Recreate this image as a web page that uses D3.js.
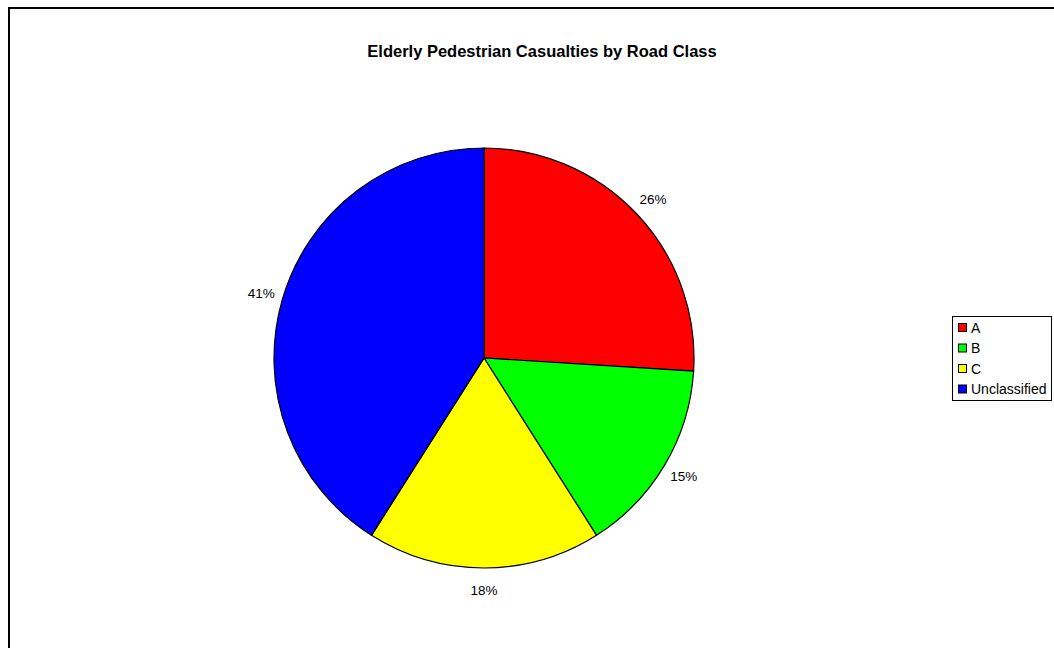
<!DOCTYPE html>
<html>
<head>
<meta charset="utf-8">
<script src="https://cdn.jsdelivr.net/npm/d3@7"></script>
<style>
  html, body { margin: 0; padding: 0; background: #fff; }
  svg { display: block; font-family: "Liberation Sans", Arial, sans-serif; }
</style>
</head>
<body>
<svg id="chart" width="1054" height="648"></svg>
<script>
// Share of elderly pedestrian casualties by road class (percent)
const categories = ["A", "B", "C", "Unclassified"];
const values = [26, 15, 18, 41];
const colors = ["#ff0000", "#00ff00", "#ffff00", "#0000ff"];
const title = "Elderly Pedestrian Casualties by Road Class";

const svg = d3.select("#chart");

// outer chart frame
svg.append("rect")
  .attr("x", 9).attr("y", 8)
  .attr("width", 1100).attr("height", 700)
  .attr("fill", "#fff")
  .attr("stroke", "#000")
  .attr("stroke-width", 2);

svg.append("text")
  .attr("x", 542).attr("y", 57)
  .attr("text-anchor", "middle")
  .attr("font-size", 16.5)
  .attr("font-weight", "bold")
  .text(title);

const cx = 484, cy = 358, radius = 210, labelRadius = 232;

const pie = d3.pie().sort(null).value(d => d.value);
const arcs = pie(categories.map((c, i) => ({ name: c, value: values[i] })));
const arc = d3.arc().innerRadius(0).outerRadius(radius);
const labelArc = d3.arc().innerRadius(labelRadius).outerRadius(labelRadius);

const g = svg.append("g").attr("transform", `translate(${cx},${cy})`);

g.selectAll("path.slice")
  .data(arcs)
  .join("path")
  .attr("class", "slice")
  .attr("d", arc)
  .attr("fill", (d, i) => colors[i])
  .attr("stroke", "#000")
  .attr("stroke-width", 1.2);

g.selectAll("text.pct")
  .data(arcs)
  .join("text")
  .attr("class", "pct")
  .attr("transform", d => `translate(${labelArc.centroid(d)})`)
  .attr("text-anchor", "middle")
  .attr("dominant-baseline", "central")
  .attr("font-size", 13.5)
  .attr("fill", "#000")
  .text(d => d.data.value + "%");

// legend
const legend = svg.append("g").attr("transform", "translate(952,316)");
legend.append("rect")
  .attr("x", 0.5).attr("y", 0.5)
  .attr("width", 99).attr("height", 84)
  .attr("fill", "#fff")
  .attr("stroke", "#000")
  .attr("stroke-width", 1);

const rows = legend.selectAll("g.item")
  .data(categories)
  .join("g")
  .attr("class", "item")
  .attr("transform", (d, i) => `translate(6,${7 + i * 20.5})`);

rows.append("rect")
  .attr("x", 0.5).attr("y", 0.5)
  .attr("width", 8).attr("height", 8)
  .attr("fill", (d, i) => colors[i])
  .attr("stroke", "#000")
  .attr("stroke-width", 1);

rows.append("text")
  .attr("x", 13).attr("y", 9.5)
  .attr("font-size", 14)
  .text(d => d);
</script>
</body>
</html>
